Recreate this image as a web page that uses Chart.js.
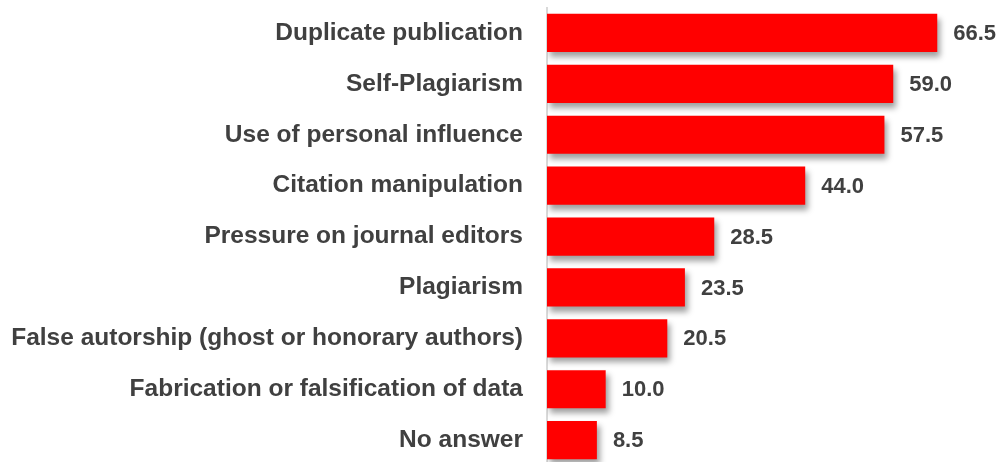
<!DOCTYPE html>
<html>
<head>
<meta charset="utf-8">
<script src="https://cdn.jsdelivr.net/npm/chart.js@4"></script>
<style>
html,body{margin:0;padding:0;background:#fff;overflow:hidden;width:997px;height:462px;}
canvas{display:block;}
</style>
</head>
<body>
<canvas id="c" width="997" height="468"></canvas>
<script>
const categories = [
  "Duplicate publication",
  "Self-Plagiarism",
  "Use of personal influence",
  "Citation manipulation",
  "Pressure on journal editors",
  "Plagiarism",
  "False autorship (ghost or honorary authors)",
  "Fabrication or falsification of data",
  "No answer"
];
const values = [66.5, 59.0, 57.5, 44.0, 28.5, 23.5, 20.5, 10.0, 8.5];

const shadowPlugin = {
  id: 'shadow',
  beforeDatasetsDraw(chart) {
    const ctx = chart.ctx;
    ctx.save();
    ctx.shadowColor = 'rgba(0,0,0,0.38)';
    ctx.shadowBlur = 6;
    ctx.shadowOffsetX = 3;
    ctx.shadowOffsetY = 5;
  },
  afterDatasetsDraw(chart) {
    chart.ctx.restore();
    const ctx = chart.ctx;
    const meta = chart.getDatasetMeta(0);
    ctx.save();
    ctx.font = 'bold 22px "Liberation Sans", Arial, sans-serif';
    ctx.fillStyle = '#404040';
    ctx.textAlign = 'left';
    ctx.textBaseline = 'middle';
    meta.data.forEach((bar, i) => {
      ctx.fillText(values[i].toFixed(1), bar.x + 16, bar.y + 1);
    });
    ctx.restore();
  }
};

new Chart(document.getElementById('c'), {
  type: 'bar',
  data: {
    labels: categories,
    datasets: [{
      data: values,
      backgroundColor: '#ff0000',
      borderWidth: 0,
      barPercentage: 0.75,
      categoryPercentage: 1.0
    }]
  },
  options: {
    indexAxis: 'y',
    responsive: false,
    animation: false,
    devicePixelRatio: 1,
    layout: { padding: { top: 7.5, bottom: 2.4, left: 0, right: 4 } },
    plugins: { legend: { display: false }, tooltip: { enabled: false } },
    scales: {
      x: {
        display: false,
        min: 0,
        max: 76
      },
      y: {
        afterFit(s) { s.width = 547; s.paddingTop = 0; s.paddingBottom = 0; },
        grid: { display: false, drawTicks: false },
        border: { display: true, color: '#d9d9d9', width: 2 },
        ticks: {
          padding: 24,
          color: '#404040',
          font: { family: '"Liberation Sans", Arial, sans-serif', size: 24.5, weight: 'bold' }
        }
      }
    }
  },
  plugins: [shadowPlugin]
});
</script>
</body>
</html>
